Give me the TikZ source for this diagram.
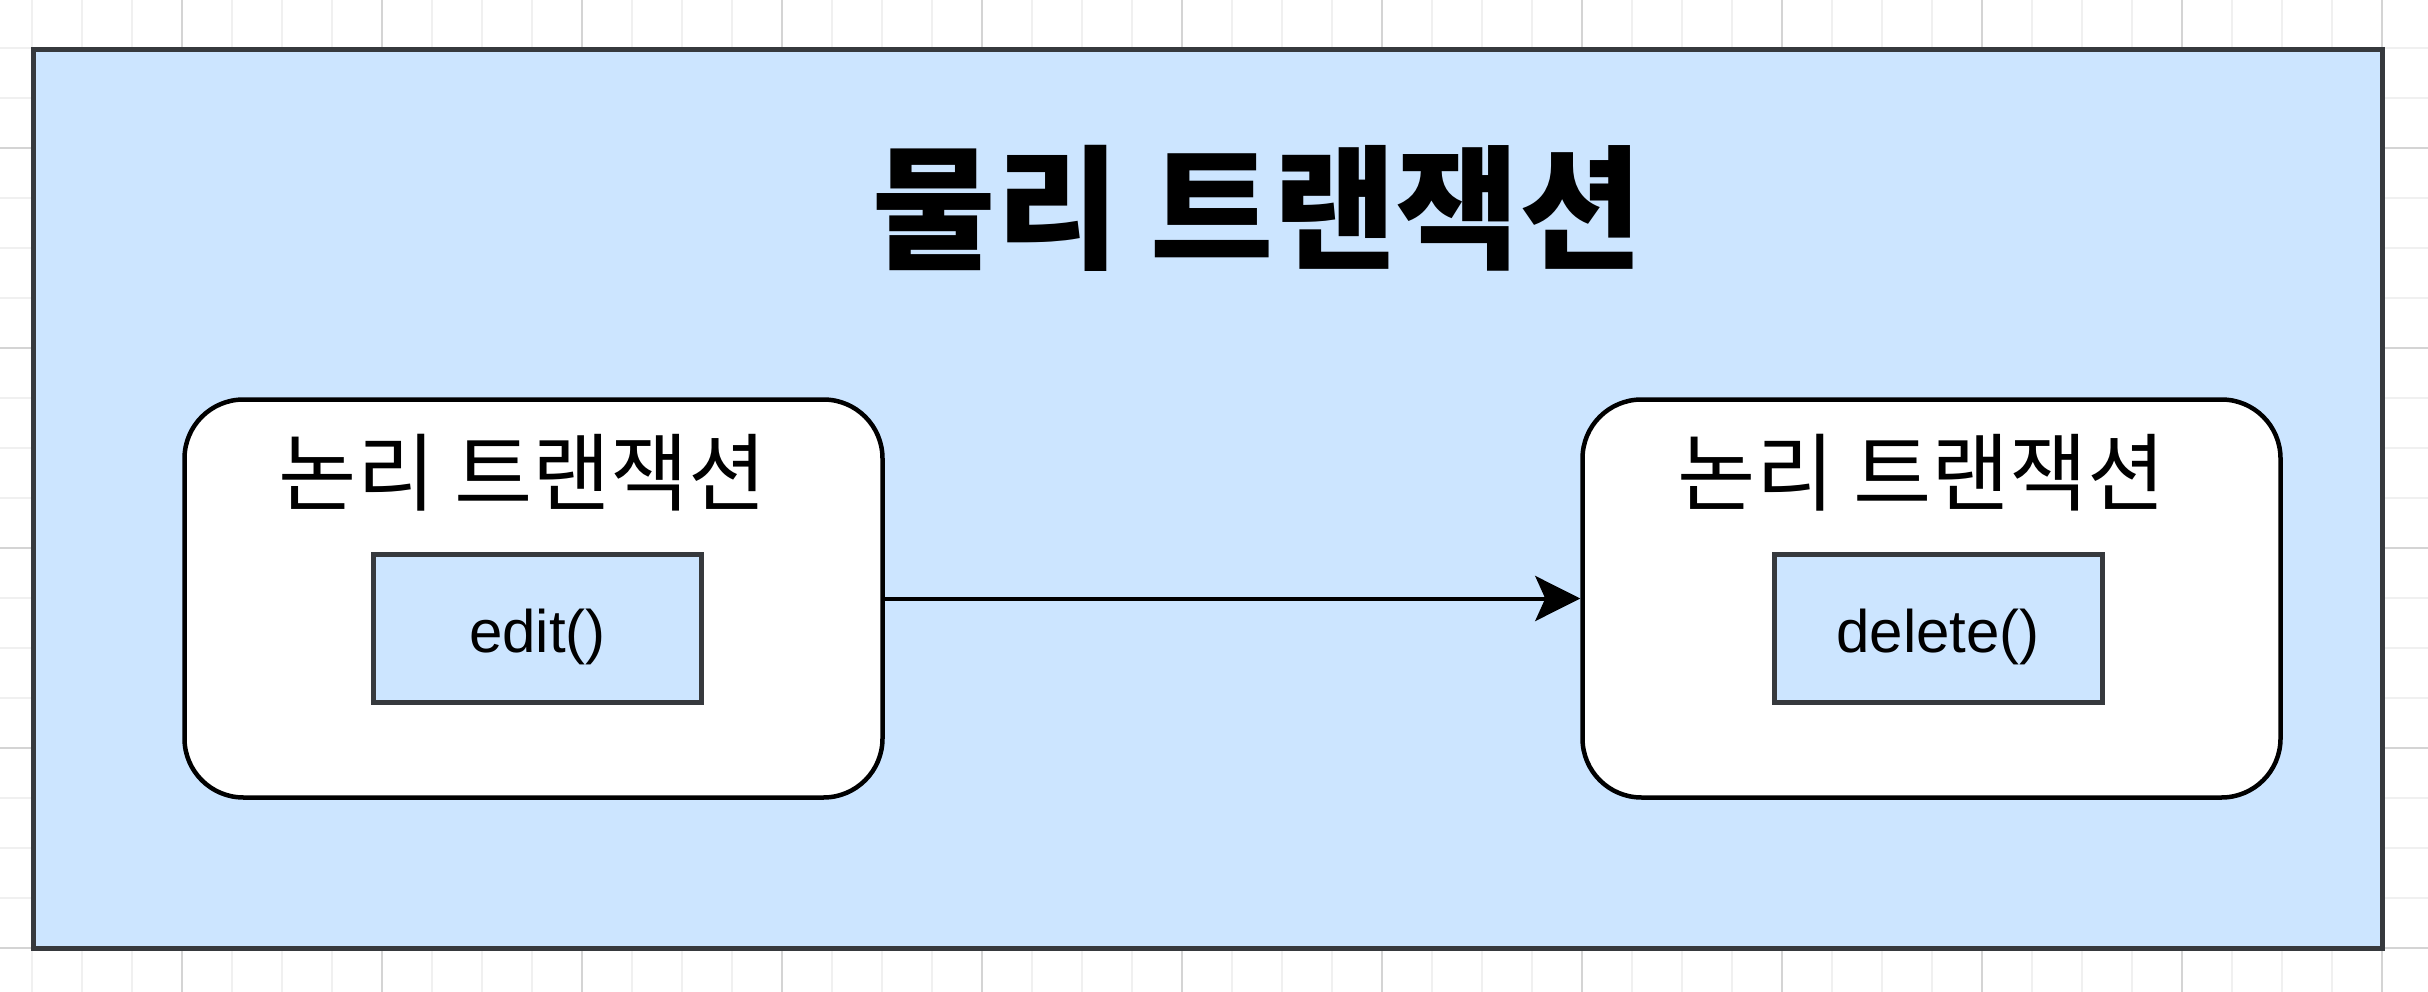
\documentclass[tikz,border=0pt]{standalone}
\usepackage{fontspec}
\setmainfont{Liberation Sans}
\newfontfamily\kr{Noto Sans CJK KR}
\usetikzlibrary{arrows.meta}
\definecolor{fillblue}{HTML}{CCE5FF}
\definecolor{strk}{HTML}{36393D}
\definecolor{gminor}{HTML}{F0F0F0}
\definecolor{gmajor}{HTML}{D4D4D4}
\tikzset{
  outerbox/.style={draw=strk, fill=fillblue, line width=5pt, inner sep=0pt},
  logicbox/.style={draw=black, fill=white, line width=4.5pt, rounded corners=59pt, inner sep=0pt,
    minimum width=698pt, minimum height=398pt},
  methodbox/.style={draw=strk, fill=fillblue, line width=5pt, inner sep=0pt,
    minimum width=328pt, minimum height=148pt},
  titletext/.style={font=\kr\bfseries\fontsize{134}{150}\selectfont, inner sep=0pt},
  logictext/.style={font=\kr\fontsize{85}{96}\selectfont, inner sep=0pt},
  methodtext/.style={font=\fontsize{60}{70}\selectfont, inner sep=0pt, anchor=base},
  conn/.style={line width=4pt, -{Stealth[length=45pt,width=45pt,inset=10pt]}}
}
\begin{document}
\begin{tikzpicture}[x=1pt,y=-1pt]
\useasboundingbox (0,0) rectangle (2428,992);
\fill[white] (0,0) rectangle (2428,992);
\foreach \x in {32,82,...,2432} \draw[gminor,line width=2pt] (\x,0) -- (\x,992);
\foreach \y in {48,98,...,998} \draw[gminor,line width=2pt] (0,\y) -- (2428,\y);
\foreach \x in {182,382,...,2382} \draw[gmajor,line width=2pt] (\x,0) -- (\x,992);
\foreach \y in {148,348,...,948} \draw[gmajor,line width=2pt] (0,\y) -- (2428,\y);

\node[outerbox, minimum width=2349pt, minimum height=899pt] (phys) at (1208,499) {};
\node[titletext] (title) at (1258,208) {물리 트랜잭션};

\node[logicbox] (L) at (533.5,598.5) {};
\node[logicbox] (R) at (1931.5,598.5) {};
\node[logictext] (Lt) at (523,473) {논리 트랜잭션};
\node[logictext] (Rt) at (1922,473) {논리 트랜잭션};

\node[methodbox] (Lm) at (537.5,628.5) {};
\node[methodbox] (Rm) at (1938,628.5) {};
\node[methodtext] (Le) at (537.5,652) {edit()};
\node[methodtext] (Rd) at (1938,652) {delete()};

\draw[conn] (L.east) -- (R.west);
\end{tikzpicture}
\end{document}
